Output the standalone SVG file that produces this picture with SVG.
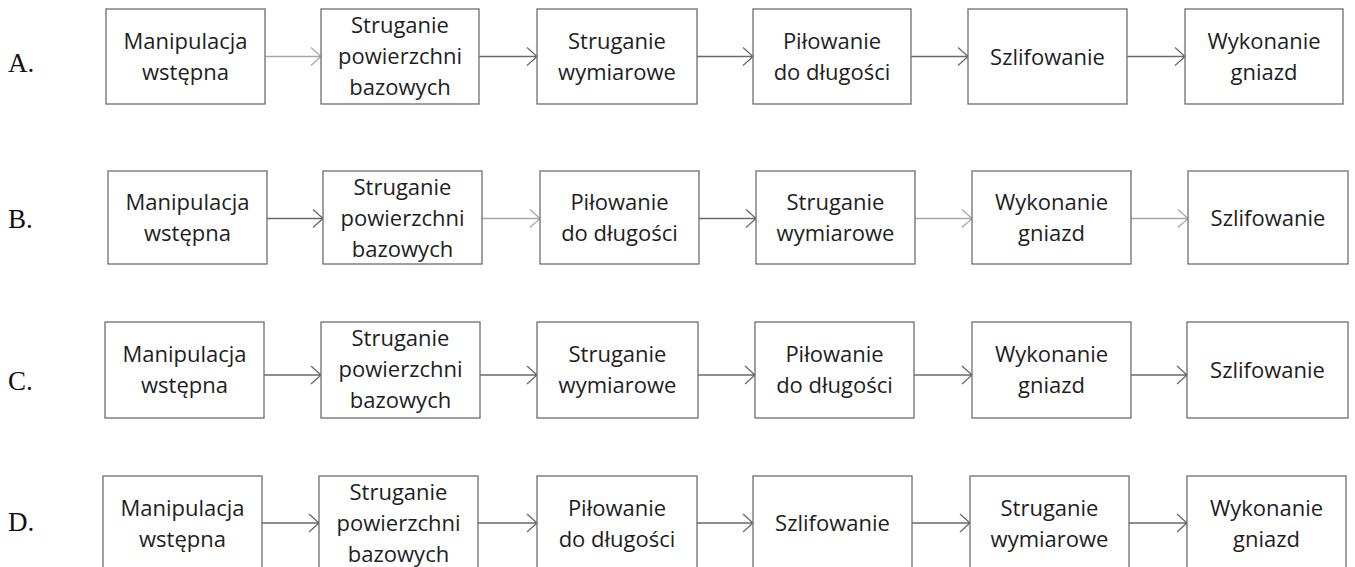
<svg xmlns="http://www.w3.org/2000/svg" width="1355" height="567" viewBox="0 0 1355 567">
<style>
.box{fill:#fff;stroke:#6e6e6e;stroke-width:1.3}
.t{font-family:"Open Sans","Noto Sans","Liberation Sans",sans-serif;font-size:22px;fill:#1e1e1e;text-anchor:middle}
.lbl{font-family:"Liberation Serif","DejaVu Serif",serif;font-size:27px;fill:#111}
.c{fill:none;stroke:#6a6a6a;stroke-width:1.3}
.c.l{stroke:#a8a8a8}
</style>
<rect width="1355" height="567" fill="#fff"/>
<g id="labels">
<text class="lbl" x="8" y="72">A.</text>
<text class="lbl" x="8" y="228">B.</text>
<text class="lbl" x="8" y="390">C.</text>
<text class="lbl" x="8" y="531">D.</text>
</g>
<g id="connectors">
<!-- Row A y=56.5 -->
<path class="c l" d="M265,56.5H321M311,47.5L321,56.5L311,65.5"/>
<path class="c" d="M479,56.5H537M527,47.5L537,56.5L527,65.5"/>
<path class="c" d="M697,56.5H753M743,47.5L753,56.5L743,65.5"/>
<path class="c" d="M911,56.5H968M958,47.5L968,56.5L958,65.5"/>
<path class="c" d="M1127,56.5H1185M1175,47.5L1185,56.5L1175,65.5"/>
<!-- Row B y=218.5 -->
<path class="c" d="M267,218.5H323M313,209.5L323,218.5L313,227.5"/>
<path class="c l" d="M482,218.5H540M530,209.5L540,218.5L530,227.5"/>
<path class="c" d="M699,218.5H756M746,209.5L756,218.5L746,227.5"/>
<path class="c l" d="M915,218.5H972M962,209.5L972,218.5L962,227.5"/>
<path class="c l" d="M1131,218.5H1188M1178,209.5L1188,218.5L1178,227.5"/>
<!-- Row C y=375 -->
<path class="c" d="M264,375H321M311,366L321,375L311,384"/>
<path class="c" d="M480,375H537M527,366L537,375L527,384"/>
<path class="c" d="M698,375H755M745,366L755,375L745,384"/>
<path class="c" d="M914,375H972M962,366L972,375L962,384"/>
<path class="c" d="M1131,375H1187M1177,366L1187,375L1177,384"/>
<!-- Row D y=523 -->
<path class="c" d="M262,523H319M309,514L319,523L309,532"/>
<path class="c" d="M478,523H537M527,514L537,523L527,532"/>
<path class="c" d="M697,523H753M743,514L753,523L743,532"/>
<path class="c" d="M912,523H970M960,514L970,523L960,532"/>
<path class="c" d="M1129,523H1187M1177,514L1187,523L1177,532"/>
</g>
<!-- Row A -->
<g id="A1"><rect class="box" x="106" y="9" width="159" height="95"/><text class="t" x="185.5" y="49">Manipulacja</text><text class="t" x="185.5" y="80">wstępna</text></g>
<g id="A2"><rect class="box" x="321" y="9" width="158" height="95"/><text class="t" x="400" y="33">Struganie</text><text class="t" x="400" y="64">powierzchni</text><text class="t" x="400" y="95">bazowych</text></g>
<g id="A3"><rect class="box" x="537" y="9" width="160" height="95"/><text class="t" x="617" y="49">Struganie</text><text class="t" x="617" y="80">wymiarowe</text></g>
<g id="A4"><rect class="box" x="753" y="9" width="158" height="95"/><text class="t" x="832" y="49">Piłowanie</text><text class="t" x="832" y="80">do długości</text></g>
<g id="A5"><rect class="box" x="968" y="9" width="159" height="95"/><text class="t" x="1047.5" y="65">Szlifowanie</text></g>
<g id="A6"><rect class="box" x="1185" y="9" width="158" height="95"/><text class="t" x="1264" y="49">Wykonanie</text><text class="t" x="1264" y="80">gniazd</text></g>
<!-- Row B -->
<g id="B1"><rect class="box" x="108" y="171" width="159" height="93"/><text class="t" x="187.5" y="210">Manipulacja</text><text class="t" x="187.5" y="241">wstępna</text></g>
<g id="B2"><rect class="box" x="323" y="171" width="159" height="93"/><text class="t" x="402.5" y="195">Struganie</text><text class="t" x="402.5" y="226">powierzchni</text><text class="t" x="402.5" y="257">bazowych</text></g>
<g id="B3"><rect class="box" x="540" y="171" width="159" height="93"/><text class="t" x="619.5" y="210">Piłowanie</text><text class="t" x="619.5" y="241">do długości</text></g>
<g id="B4"><rect class="box" x="756" y="171" width="159" height="93"/><text class="t" x="835.5" y="210">Struganie</text><text class="t" x="835.5" y="241">wymiarowe</text></g>
<g id="B5"><rect class="box" x="972" y="171" width="159" height="93"/><text class="t" x="1051.5" y="210">Wykonanie</text><text class="t" x="1051.5" y="241">gniazd</text></g>
<g id="B6"><rect class="box" x="1188" y="171" width="160" height="93"/><text class="t" x="1268" y="226">Szlifowanie</text></g>
<!-- Row C -->
<g id="C1"><rect class="box" x="105" y="322" width="159" height="96"/><text class="t" x="184.5" y="362">Manipulacja</text><text class="t" x="184.5" y="393">wstępna</text></g>
<g id="C2"><rect class="box" x="321" y="322" width="159" height="96"/><text class="t" x="400.5" y="346">Struganie</text><text class="t" x="400.5" y="377">powierzchni</text><text class="t" x="400.5" y="408">bazowych</text></g>
<g id="C3"><rect class="box" x="537" y="322" width="161" height="96"/><text class="t" x="617.5" y="362">Struganie</text><text class="t" x="617.5" y="393">wymiarowe</text></g>
<g id="C4"><rect class="box" x="755" y="322" width="159" height="96"/><text class="t" x="834.5" y="362">Piłowanie</text><text class="t" x="834.5" y="393">do długości</text></g>
<g id="C5"><rect class="box" x="972" y="322" width="159" height="96"/><text class="t" x="1051.5" y="362">Wykonanie</text><text class="t" x="1051.5" y="393">gniazd</text></g>
<g id="C6"><rect class="box" x="1187" y="322" width="161" height="96"/><text class="t" x="1267.5" y="378">Szlifowanie</text></g>
<!-- Row D -->
<g id="D1"><rect class="box" x="103" y="476" width="159" height="95"/><text class="t" x="182.5" y="516">Manipulacja</text><text class="t" x="182.5" y="547">wstępna</text></g>
<g id="D2"><rect class="box" x="319" y="476" width="159" height="95"/><text class="t" x="398.5" y="500">Struganie</text><text class="t" x="398.5" y="531">powierzchni</text><text class="t" x="398.5" y="562">bazowych</text></g>
<g id="D3"><rect class="box" x="537" y="476" width="160" height="95"/><text class="t" x="617" y="516">Piłowanie</text><text class="t" x="617" y="547">do długości</text></g>
<g id="D4"><rect class="box" x="753" y="476" width="159" height="95"/><text class="t" x="832.5" y="531">Szlifowanie</text></g>
<g id="D5"><rect class="box" x="970" y="476" width="159" height="95"/><text class="t" x="1049.5" y="516">Struganie</text><text class="t" x="1049.5" y="547">wymiarowe</text></g>
<g id="D6"><rect class="box" x="1187" y="476" width="159" height="95"/><text class="t" x="1266.5" y="516">Wykonanie</text><text class="t" x="1266.5" y="547">gniazd</text></g>
</svg>
